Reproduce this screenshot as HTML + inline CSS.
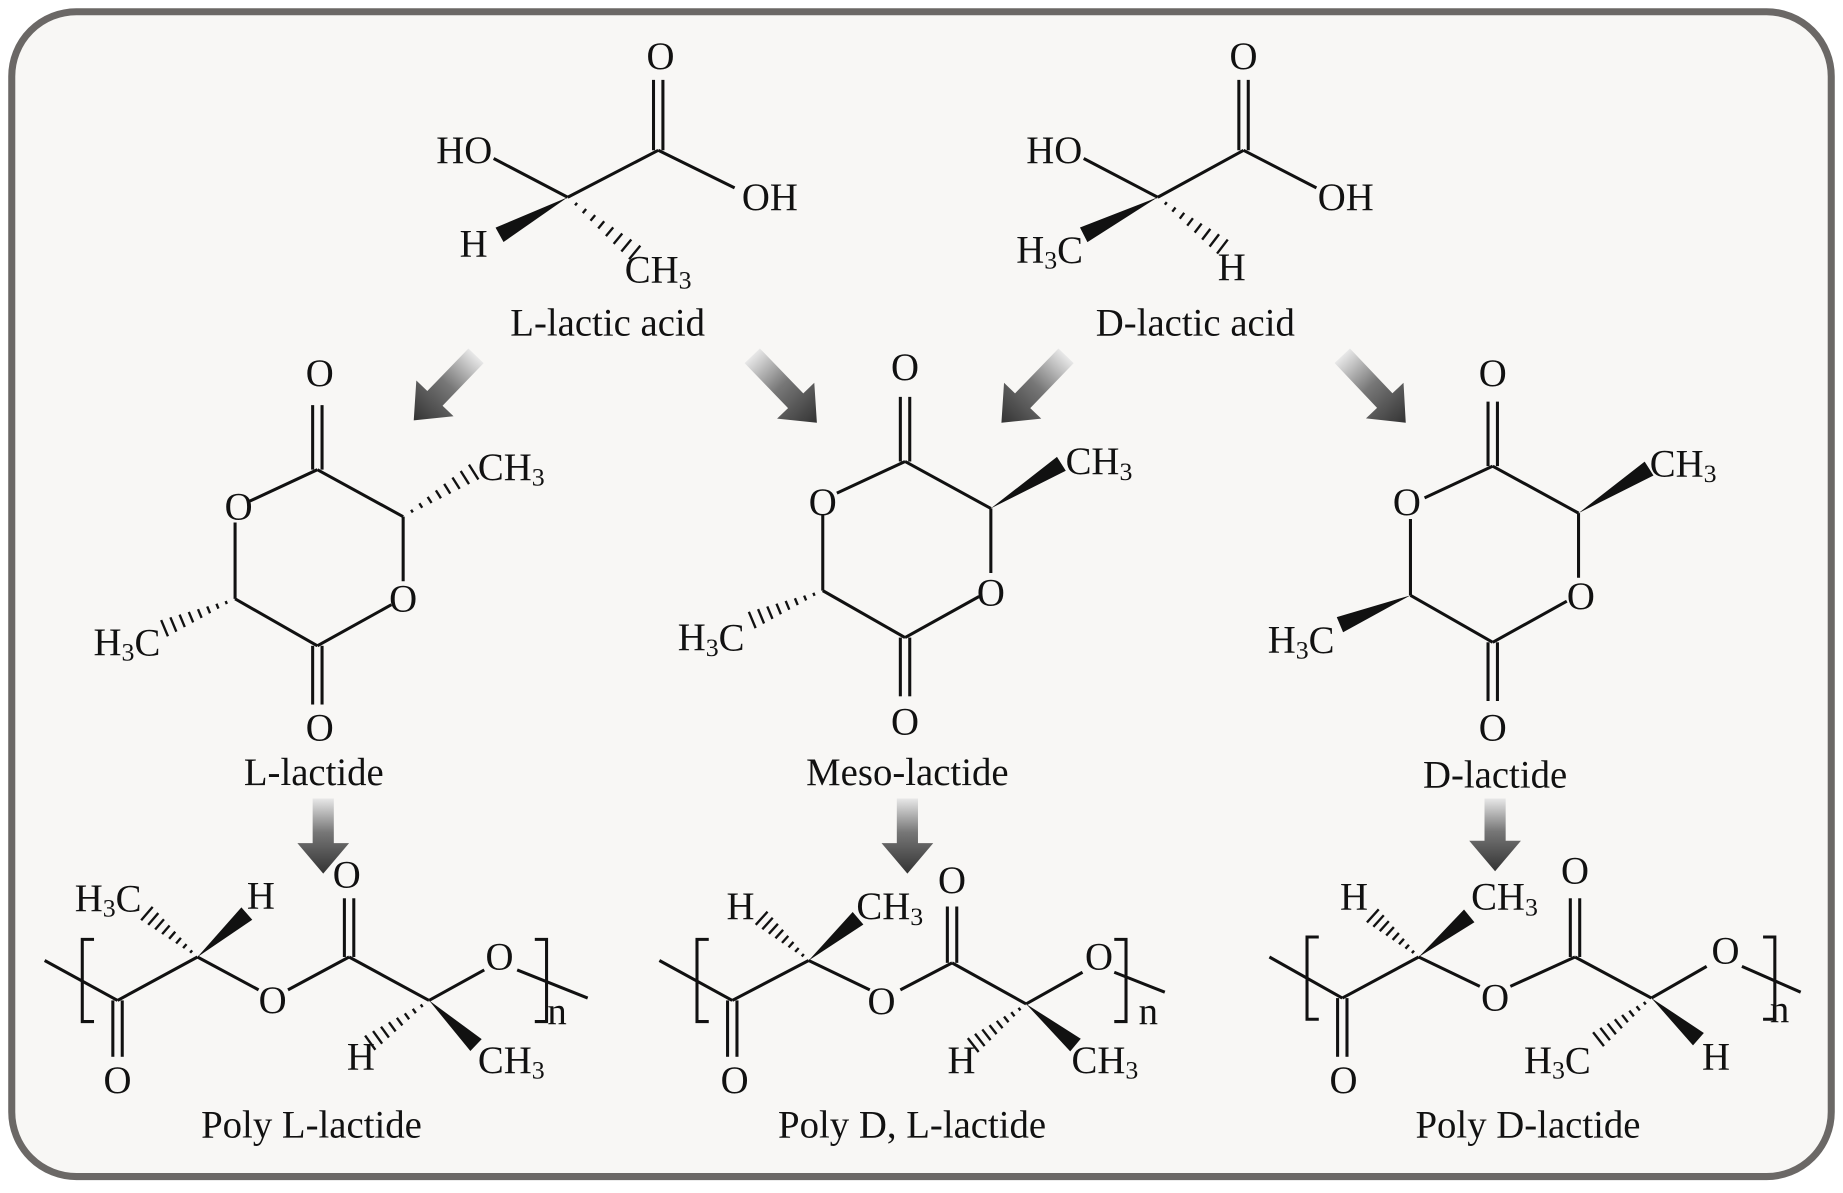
<!DOCTYPE html>
<html><head><meta charset="utf-8"><style>
html,body{margin:0;padding:0;background:#fff;}
svg{display:block;}
text{font-family:"Liberation Serif",serif;font-size:33px;fill:#111;}
</style></head><body>
<svg id="s" width="1843" height="1193" viewBox="0 0 1568 1016" preserveAspectRatio="none" xmlns="http://www.w3.org/2000/svg">
<defs>
<linearGradient id="ga" x1="0" y1="0" x2="1" y2="0">
<stop offset="0" stop-color="#e8e8e8"/><stop offset="0.45" stop-color="#777"/><stop offset="1" stop-color="#333"/>
</linearGradient>
</defs>
<rect x="10" y="10" width="1548" height="992" rx="55" fill="#f8f7f5" stroke="#6b6866" stroke-width="6"/>
<g id="g" stroke="#111" stroke-width="2.6" fill="none"></g>
<g id="ar"></g>
<g text-anchor="middle" dominant-baseline="central">
<text x="562" y="48">O</text><text x="395" y="128">HO</text><text x="655" y="168">OH</text>
<text x="403" y="208">H</text><text x="560" y="230">CH<tspan dy="8" font-size="22">3</tspan></text>
<text x="517" y="275">L-lactic acid</text>
<text x="1058" y="48">O</text><text x="897" y="128">HO</text><text x="1145" y="168">OH</text>
<text x="893" y="213">H<tspan dy="8" font-size="22">3</tspan><tspan dy="-8">C</tspan></text><text x="1048" y="228">H</text>
<text x="1017" y="275">D-lactic acid</text>
<text x="272" y="318">O</text><text x="203" y="432">O</text><text x="343" y="510">O</text><text x="272" y="620">O</text>
<text x="435" y="398">CH<tspan dy="8" font-size="22">3</tspan></text>
<text x="108" y="547">H<tspan dy="8" font-size="22">3</tspan><tspan dy="-8">C</tspan></text>
<text x="267" y="658">L-lactide</text>
<text x="770" y="313">O</text><text x="700" y="428">O</text><text x="843" y="505">O</text><text x="770" y="615">O</text>
<text x="935" y="393">CH<tspan dy="8" font-size="22">3</tspan></text>
<text x="605" y="543">H<tspan dy="8" font-size="22">3</tspan><tspan dy="-8">C</tspan></text>
<text x="772" y="658">Meso-lactide</text>
<text x="1270" y="318">O</text><text x="1197" y="428">O</text><text x="1345" y="508">O</text><text x="1270" y="620">O</text>
<text x="1432" y="395">CH<tspan dy="8" font-size="22">3</tspan></text>
<text x="1107" y="545">H<tspan dy="8" font-size="22">3</tspan><tspan dy="-8">C</tspan></text>
<text x="1272" y="660">D-lactide</text>
<text x="100" y="920">O</text><text x="92" y="765">H<tspan dy="8" font-size="22">3</tspan><tspan dy="-8">C</tspan></text><text x="222" y="763">H</text>
<text x="232" y="852">O</text><text x="295" y="745">O</text><text x="307" y="900">H</text>
<text x="435" y="903">CH<tspan dy="8" font-size="22">3</tspan></text><text x="425" y="815">O</text>
<text x="474" y="862" font-size="26">n</text>
<text x="265" y="958">Poly L-lactide</text>
<text x="625" y="920">O</text><text x="630" y="772">H</text><text x="757" y="772">CH<tspan dy="8" font-size="22">3</tspan></text>
<text x="750" y="853">O</text><text x="810" y="750">O</text><text x="818" y="903">H</text>
<text x="940" y="903">CH<tspan dy="8" font-size="22">3</tspan></text><text x="935" y="815">O</text>
<text x="977" y="862" font-size="26">n</text>
<text x="776" y="958">Poly D, L-lactide</text>
<text x="1143" y="920">O</text><text x="1152" y="764">H</text><text x="1280" y="764">CH<tspan dy="8" font-size="22">3</tspan></text>
<text x="1272" y="850">O</text><text x="1340" y="742">O</text><text x="1325" y="903">H<tspan dy="8" font-size="22">3</tspan><tspan dy="-8">C</tspan></text>
<text x="1460" y="900">H</text><text x="1468" y="810">O</text>
<text x="1514" y="860" font-size="26">n</text>
<text x="1300" y="958">Poly D-lactide</text>
</g>
</svg>
<script>
var NS="http://www.w3.org/2000/svg",G=document.getElementById('g'),AR=document.getElementById('ar');
function el(t,a,p){var e=document.createElementNS(NS,t);for(var k in a)e.setAttribute(k,a[k]);(p||G).appendChild(e);return e;}
function L(a,b,c,d){el('line',{x1:a,y1:b,x2:c,y2:d});}
function D(a,b,c,d){var dx=c-a,dy=d-b,l=Math.hypot(dx,dy),nx=-dy/l*4,ny=dx/l*4;L(a+nx,b+ny,c+nx,d+ny);L(a-nx,b-ny,c-nx,d-ny);}
function W(a,b,c,d){var dx=c-a,dy=d-b,l=Math.hypot(dx,dy),nx=-dy/l*7,ny=dx/l*7;el('polygon',{points:a+','+b+' '+(c+nx)+','+(d+ny)+' '+(c-nx)+','+(d-ny),fill:'#111',stroke:'none'});}
function H(a,b,c,d){var dx=c-a,dy=d-b,l=Math.hypot(dx,dy),n=8;for(var i=1;i<=n;i++){var t=i/n,x=a+dx*t,y=b+dy*t,w=7*t+0.5;el('line',{x1:x-dy/l*w,y1:y+dx/l*w,x2:x+dy/l*w,y2:y-dx/l*w,'stroke-width':2});}}
L(420,135,483,168);L(483,168,560,128);D(560,128,560,68);L(560,128,625,160);W(483,168,425,200);H(483,168,540,215);
L(922,135,985,168);L(985,168,1058,128);D(1058,128,1058,68);L(1058,128,1120,160);W(985,168,922,200);H(985,168,1040,210);
function ring(ox,oy,c1,c2,c5){var p=[[270,400],[343,440],[343,495],[270,550],[200,510],[200,447]].map(function(q){return[q[0]+ox,q[1]+oy]});
L(p[0][0],p[0][1],p[1][0],p[1][1]);L(p[1][0],p[1][1],p[2][0],p[2][1]);L(p[2][0]-10,p[2][1]+20,p[3][0],p[3][1]);
L(p[3][0],p[3][1],p[4][0],p[4][1]);L(p[4][0],p[4][1],p[5][0],p[5][1]-2);L(p[5][0]+12,p[5][1]-20,p[0][0],p[0][1]);
D(p[0][0],p[0][1],p[0][0],p[0][1]-55);D(p[3][0],p[3][1],p[3][0],p[3][1]+50);
c2(p[1][0],p[1][1],p[1][0]+60,p[1][1]-38);c5(p[4][0],p[4][1],p[4][0]-60,p[4][1]+25);}
ring(0,0,0,H,H);ring(500,-7,0,W,H);ring(1000,-3,0,W,W);
function poly(o,s,cT,cB){
L(38+o,818,100+o,852);D(100+o,852,100+o,900);L(100+o,852,168+o,815);L(168+o,815,220+o,843);
L(245+o,843,297+o,815);D(297+o,815,297+o,765);L(297+o,815,365+o,852);L(365+o,852,412+o,826);L(440+o,826,500+o,850);
el('path',{d:'M'+(80+o)+',800 h-10 v70 h10'});el('path',{d:'M'+(455+o)+',800 h10 v70 h-10'});
cT(168+o,815);cB(365+o,852);}
poly(0,0,function(x,y){H(x,y,125,778);W(x,y,210,778);},function(x,y){H(x,y,315,888);W(x,y,405,890);});
(function(){var o=523;L(38+o,818,100+o,852);D(100+o,852,100+o,900);L(100+o,852,165+o,818);L(165+o,818,217+o,843);
L(243+o,843,287+o,820);D(287+o,820,287+o,772);L(287+o,820,350+o,855);L(350+o,855,398+o,828);L(425+o,828,468+o,845);
el('path',{d:'M'+(80+o)+',800 h-10 v70 h10'});el('path',{d:'M948,800 h10 v70 h-10'});
H(688,818,648,782);W(688,818,730,782);H(873,855,828,890);W(873,855,915,890);})();
(function(){var o=1042;L(38+o,815,100+o,850);D(100+o,850,100+o,900);L(100+o,850,165+o,815);L(165+o,815,217+o,840);
L(243+o,840,298+o,815);D(298+o,815,298+o,765);L(298+o,815,363+o,850);L(363+o,850,410+o,823);L(440+o,823,490+o,845);
el('path',{d:'M'+(80+o)+',798 h-10 v70 h10'});el('path',{d:'M'+(458+o)+',798 h10 v70 h-10'});
H(1207,815,1168,780);W(1207,815,1250,780);H(1405,850,1360,885);W(1405,850,1445,885);})();
function arrow(x1,y1,x2,y2){var ang=Math.atan2(y2-y1,x2-x1)*180/Math.PI,l=Math.hypot(x2-x1,y2-y1);
var g=el('g',{transform:'translate('+x1+','+y1+') rotate('+ang+')'},AR);
el('polygon',{points:'0,-9 '+(l-26)+',-9 '+(l-26)+',-22 '+l+',0 '+(l-26)+',22 '+(l-26)+',9 0,9',fill:'url(#ga)'},g);}
arrow(405,303,352,358);arrow(640,303,695,360);arrow(907,303,852,360);arrow(1142,303,1196,360);
arrow(275,680,275,744);arrow(772,680,772,744);arrow(1272,680,1272,742);
</script>
</body></html>
